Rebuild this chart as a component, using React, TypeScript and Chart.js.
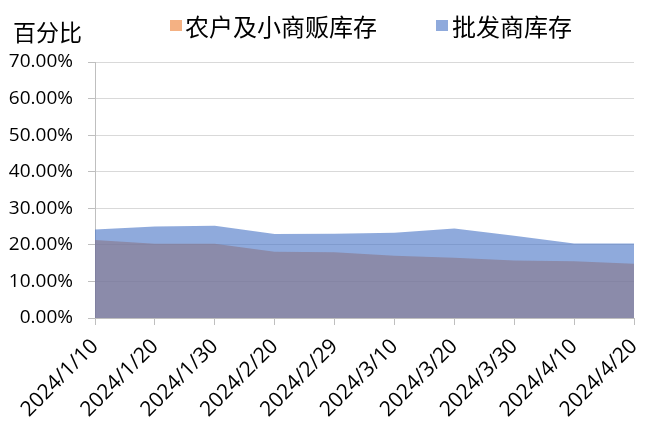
import React, { useEffect, useRef } from "react";
import { Chart, registerables } from "chart.js";

Chart.register(...registerables);

const categories = [
  "2024/1/10", "2024/1/20", "2024/1/30", "2024/2/20", "2024/2/29",
  "2024/3/10", "2024/3/20", "2024/3/30", "2024/4/10", "2024/4/20",
];
const farmerStock = [0.213, 0.203, 0.203, 0.181, 0.18, 0.17, 0.165, 0.157, 0.155, 0.148];
const wholesaleStock = [0.242, 0.25, 0.252, 0.23, 0.2305, 0.233, 0.245, 0.225, 0.204, 0.204];
const seriesNames = ["农户及小商贩库存", "批发商库存"];
const yTitle = "百分比";

const ORANGE = "rgba(237,125,49,0.6)";
const BLUE = "rgba(68,114,196,0.6)";

const overlayPlugin = {
  id: "overlay",
  afterDraw(chart: any) {
    const ctx = chart.ctx;
    ctx.save();
    ctx.textBaseline = "middle";
    ctx.textAlign = "left";
    ctx.fillStyle = "#000";
    ctx.font = '23px "Noto Sans CJK SC"';
    ctx.fillText(yTitle, 13, 32);
    ctx.font = '24px "Noto Sans CJK SC"';
    // legend
    ctx.fillStyle = ORANGE;
    ctx.fillRect(170, 20, 12, 11);
    ctx.fillStyle = "#000";
    ctx.fillText(seriesNames[0], 185, 27);
    ctx.fillStyle = BLUE;
    ctx.fillRect(436, 20, 12, 11);
    ctx.fillStyle = "#000";
    ctx.fillText(seriesNames[1], 452, 27);
    ctx.restore();
  },
};

export default function App() {
  const ref = useRef<HTMLCanvasElement>(null);
  useEffect(() => {
    if (!ref.current) return;
    const chart = new Chart(ref.current, {
      type: "line",
      data: {
        labels: categories,
        datasets: [
          {
            label: seriesNames[0],
            data: farmerStock,
            backgroundColor: ORANGE,
            borderColor: "rgba(0,0,0,0)",
            borderWidth: 0,
            pointRadius: 0,
            fill: "origin",
            order: 2,
          },
          {
            label: seriesNames[1],
            data: wholesaleStock,
            backgroundColor: BLUE,
            borderColor: "rgba(0,0,0,0)",
            borderWidth: 0,
            pointRadius: 0,
            fill: "origin",
            order: 1,
          },
        ],
      },
      options: {
        animation: false,
        responsive: true,
        maintainAspectRatio: false,
        layout: { padding: { top: 62, right: 33, left: 0, bottom: 0 } },
        plugins: {
          legend: { display: false },
          tooltip: { enabled: false },
        },
        scales: {
          x: {
            offset: false,
            grid: {
              display: true,
              drawOnChartArea: false,
              drawTicks: true,
              tickLength: 7,
              tickColor: "#bfbfbf",
            },
            border: { display: true, color: "#bfbfbf" },
            ticks: {
              autoSkip: false,
              maxRotation: 45,
              minRotation: 45,
              padding: 9,
              color: "#000",
              font: { family: "'Open Sans'", size: 21 },
            },
            afterFit: (s: any) => {
              s.height = 123;
            },
          },
          y: {
            min: 0,
            max: 0.7,
            grid: {
              color: "#d9d9d9",
              tickLength: 7,
              tickColor: "#bfbfbf",
            },
            border: { display: true, color: "#bfbfbf" },
            ticks: {
              stepSize: 0.1,
              padding: 15,
              color: "#000",
              font: { family: "'Open Sans'", size: 19 },
              callback: (v: any) => (Number(v) * 100).toFixed(2) + "%",
            },
            afterFit: (s: any) => {
              s.width = 95;
            },
          },
        },
      },
      plugins: [overlayPlugin],
    });
    return () => chart.destroy();
  }, []);
  return (
    <div style={{ position: "relative", width: 667, height: 441, margin: -8 }}>
      <canvas ref={ref} />
    </div>
  );
}
